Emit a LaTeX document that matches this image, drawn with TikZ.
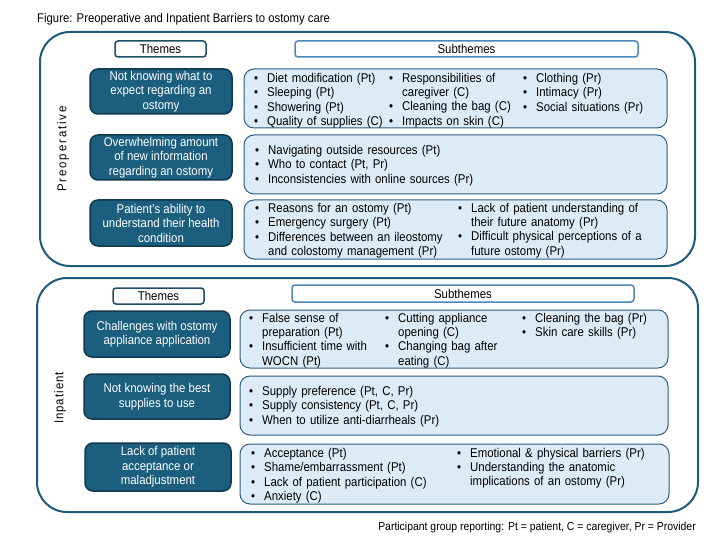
\documentclass[tikz,border=0pt]{standalone}
\usepackage{fontspec}
\setmainfont{Liberation Sans}[FakeStretch=0.9]
\newfontfamily\preofont[FakeStretch=0.9,LetterSpace=15]{Liberation Sans}
\newfontfamily\inpfont[FakeStretch=0.9,LetterSpace=8]{Liberation Sans}
\definecolor{outerc}{HTML}{1F5B7A}
\definecolor{themefill}{HTML}{1B5E7E}
\definecolor{themeborder}{HTML}{10384E}
\definecolor{subfill}{HTML}{DDEBF7}
\definecolor{subborder}{HTML}{2F5D7C}
\definecolor{hdrdark}{HTML}{1F4E6B}
\definecolor{hdrlight}{HTML}{4F88B8}
\newcommand\itm[1]{\hangindent=13pt\hangafter=1\noindent\makebox[13pt][l]{\strut•}#1\par}
\tikzset{
  outer/.style={draw=outerc, line width=2pt, rounded corners=30pt, fill=white},
  theme/.style={draw=themeborder, fill=themefill, line width=1.5pt, rounded corners=8pt,
    text=white, align=center, inner sep=0pt, font=\fontsize{12.7}{14.5}\selectfont},
  subbox/.style={draw=subborder, fill=subfill, line width=1pt, rounded corners=10pt, inner sep=0pt},
  col/.style={anchor=north west, inner sep=0pt, text width=220pt,
    font=\fontsize{12.7}{14.2}\selectfont\setlength{\parskip}{0.3pt}\raggedright},
  hdr/.style={fill=white, line width=1.5pt, rounded corners=3pt, inner sep=0pt,
    font=\fontsize{12.7}{14}\selectfont},
}
\begin{document}
\begin{tikzpicture}[x=1pt, y=-1pt]
\useasboundingbox[fill=white] (0,0) rectangle (720,540);
\node[anchor=west, inner sep=0pt, font=\fontsize{12.6}{14}\selectfont] (title) at (37,19)
  {Figure: Preoperative and Inpatient Barriers to ostomy care};

% ---------- Preoperative ----------
\node[outer, minimum width=655pt, minimum height=234pt] (preop) at (367.5,149) {};
\node[rotate=90, inner sep=0pt, font=\fontsize{12.7}{14}\preofont] (prelab) at (63,149) {Preoperative};
\node[hdr, draw=hdrdark, minimum width=91pt, minimum height=16pt] (th1) at (160.5,49) {Themes};
\node[hdr, draw=hdrlight, minimum width=343pt, minimum height=16pt] (sh1) at (466.5,49) {Subthemes};

\node[theme, minimum width=142pt, minimum height=45pt] (pt1) at (161,91.5)
  {Not knowing what to\\expect regarding an\\ostomy};
\node[theme, minimum width=142pt, minimum height=45pt] (pt2) at (161,157.5)
  {Overwhelming amount\\of new information\\regarding an ostomy};
\node[theme, minimum width=142pt, minimum height=46pt] (pt3) at (161,223)
  {Patient's ability to\\understand their health\\condition};

\node[subbox, minimum width=423pt, minimum height=59pt] (ps1) at (455.5,98.5) {};
\node[subbox, minimum width=423pt, minimum height=59pt] (ps2) at (455.5,164.5) {};
\node[subbox, minimum width=423pt, minimum height=59pt] (ps3) at (455.5,229.5) {};

\node[col] (ps1a) at (254,72) {\itm{Diet modification (Pt)}\itm{Sleeping (Pt)}\itm{Showering (Pt)}\itm{Quality of supplies (C)}};
\node[col] (ps1b) at (389,72) {\itm{Responsibilities of\newline caregiver (C)}\itm{Cleaning the bag (C)}\itm{Impacts on skin (C)}};
\node[col] (ps1c) at (523,72) {\itm{Clothing (Pr)}\itm{Intimacy (Pr)}\itm{Social situations (Pr)}};

\node[col] (ps2a) at (255,144) {\itm{Navigating outside resources (Pt)}\itm{Who to contact (Pt, Pr)}\itm{Inconsistencies with online sources (Pr)}};

\node[col] (ps3a) at (255,202) {\itm{Reasons for an ostomy (Pt)}\itm{Emergency surgery (Pt)}\itm{Differences between an ileostomy\newline and colostomy management (Pr)}};
\node[col] (ps3b) at (458,202) {\itm{Lack of patient understanding of\newline their future anatomy (Pr)}\itm{Difficult physical perceptions of a\newline future ostomy (Pr)}};

% ---------- Inpatient ----------
\node[outer, minimum width=661pt, minimum height=234pt] (inp) at (367.5,395) {};
\node[rotate=90, inner sep=0pt, font=\fontsize{12.7}{14}\inpfont] (inplab) at (60,398) {Inpatient};
\node[hdr, draw=hdrdark, minimum width=91pt, minimum height=16pt] (th2) at (158.5,296) {Themes};
\node[hdr, draw=hdrlight, minimum width=342pt, minimum height=17pt] (sh2) at (463,293.5) {Subthemes};

\node[theme, minimum width=146pt, minimum height=46pt] (it1) at (157,334)
  {Challenges with ostomy\\appliance application};
\node[theme, minimum width=146pt, minimum height=45pt] (it2) at (157,396.5)
  {Not knowing the best\\supplies to use};
\node[theme, minimum width=146pt, minimum height=48pt] (it3) at (158,467)
  {Lack of patient\\acceptance or\\maladjustment};

\node[subbox, minimum width=428pt, minimum height=58pt] (is1) at (454,339) {};
\node[subbox, minimum width=428pt, minimum height=59pt] (is2) at (454,405.5) {};
\node[subbox, minimum width=429pt, minimum height=60pt] (is3) at (454.5,474) {};

\node[col] (is1a) at (249,312) {\itm{False sense of\newline preparation (Pt)}\itm{Insufficient time with\newline WOCN (Pt)}};
\node[col] (is1b) at (385,312) {\itm{Cutting appliance\newline opening (C)}\itm{Changing bag after\newline eating (C)}};
\node[col] (is1c) at (522,312) {\itm{Cleaning the bag (Pr)}\itm{Skin care skills (Pr)}};

\node[col] (is2a) at (249,385) {\itm{Supply preference (Pt, C, Pr)}\itm{Supply consistency (Pt, C, Pr)}\itm{When to utilize anti-diarrheals (Pr)}};

\node[col] (is3a) at (251,447) {\itm{Acceptance (Pt)}\itm{Shame/embarrassment (Pt)}\itm{Lack of patient participation (C)}\itm{Anxiety (C)}};
\node[col] (is3b) at (457,447) {\itm{Emotional \& physical barriers (Pr)}\itm{Understanding the anatomic\newline implications of an ostomy (Pr)}};

\node[anchor=east, inner sep=0pt, font=\fontsize{11.6}{13}\selectfont] (foot) at (696,527)
  {Participant group reporting: Pt = patient, C = caregiver, Pr = Provider};
\end{tikzpicture}
\end{document}
